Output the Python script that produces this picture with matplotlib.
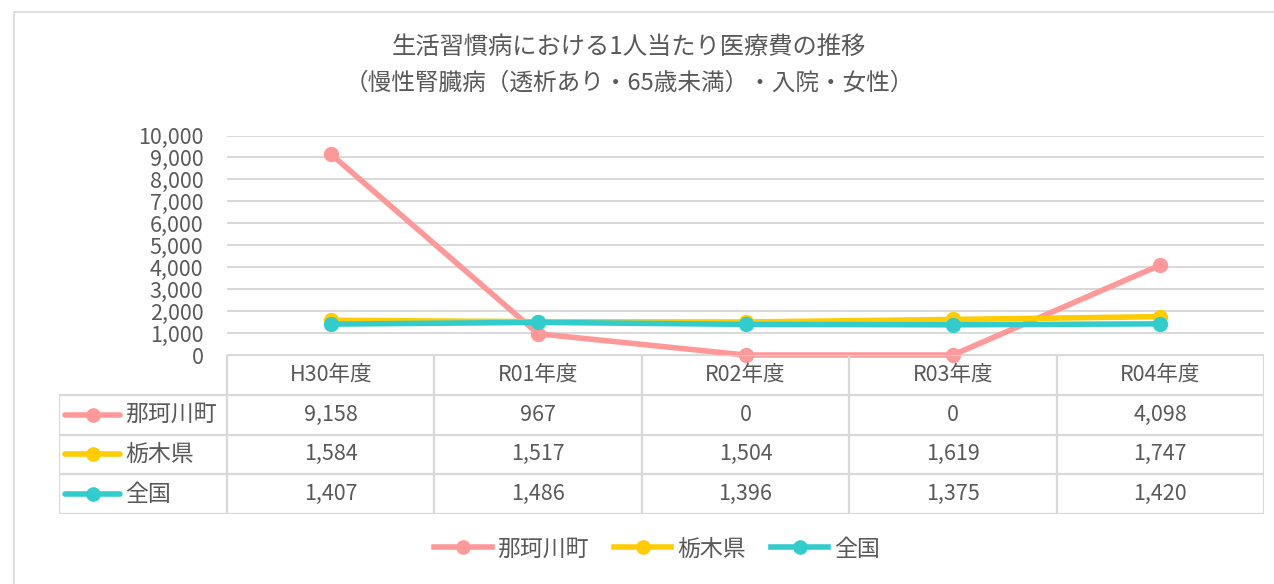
import matplotlib.pyplot as plt
from matplotlib.lines import Line2D
from matplotlib.patches import Rectangle
import numpy as np

plt.rcParams['font.family'] = ['Noto Sans CJK JP', 'DejaVu Sans']

years = ["H30年度", "R01年度", "R02年度", "R03年度", "R04年度"]
names = ["那珂川町", "栃木県", "全国"]
nakagawa = [9158, 967, 0, 0, 4098]
tochigi = [1584, 1517, 1504, 1619, 1747]
zenkoku = [1407, 1486, 1396, 1375, 1420]
colors = ["#FF9999", "#FFCC00", "#33CCCC"]

series = [nakagawa, tochigi, zenkoku]
text_col = "#595959"
grid_col = "#D9D9D9"

W, H = 1274, 584
fig = plt.figure(figsize=(W / 100, H / 100), dpi=100)

def px_box(x0, y0, x1, y1):
    # pixel box (top-left origin) -> figure fraction rect
    return [x0 / W, 1 - y1 / H, (x1 - x0) / W, (y1 - y0) / H]

# outer chart frame
fig.patches.append(Rectangle((14 / W, -0.1), 1.2, 1.1 - 12 / H, transform=fig.transFigure,
                             fill=False, ec=grid_col, lw=1.2))

fig.text(629 / W, 1 - 47 / H, "生活習慣病における1人当たり医療費の推移",
         ha="center", va="center", fontsize=17.5, color=text_col)
fig.text(629 / W, 1 - 83 / H, "（慢性腎臓病（透析あり・65歳未満）・入院・女性）",
         ha="center", va="center", fontsize=17, color=text_col)

# line chart
plot_l, plot_r = 227, 1264
ax = fig.add_axes(px_box(plot_l, 135.5, plot_r, 355))
x = np.arange(len(years))
for vals, c in zip(series, colors):
    ax.plot(x, vals, color=c, lw=4, marker="o", markersize=10, solid_capstyle="round",
            clip_on=False)
ax.set_xlim(-0.5, len(years) - 0.5)
ax.set_ylim(0, 10000)
ax.set_yticks(np.arange(0, 10001, 1000))
ax.set_yticklabels([f"{v:,}" for v in range(0, 10001, 1000)])
ax.set_xticks([])
ax.tick_params(axis="y", length=0, pad=17, labelsize=15.5, labelcolor=text_col)
ax.grid(axis="y", color=grid_col, lw=1.4)
ax.set_axisbelow(True)
for s in ax.spines.values():
    s.set_visible(False)

# data table underneath
unit = (plot_r - plot_l) / len(years)
lab_w = (plot_l - 59) / unit
tax = fig.add_axes(px_box(59, 355, plot_r, 514))
tax.set_xlim(-0.5 - lab_w, len(years) - 0.5)
tax.set_ylim(4, 0)
tax.axis("off")
left = -0.5 - lab_w
right = len(years) - 0.5
lk = dict(color=grid_col, lw=1.6, solid_capstyle="projecting")
tax.plot([-0.5, right], [0, 0], **lk)
for r in range(1, 5):
    tax.plot([left, right], [r, r], **lk)
tax.plot([left, left], [1, 4], **lk)
for k in range(len(years) + 1):
    tax.plot([k - 0.5, k - 0.5], [0, 4], **lk)
for i, y in enumerate(years):
    tax.text(i, 0.5, y, ha="center", va="center", fontsize=15.5, color=text_col)
for r, (name, vals, c) in enumerate(zip(names, series, colors), start=1):
    tax.plot([left + 6 / unit, left + 61 / unit], [r + 0.5, r + 0.5], color=c, lw=4,
             solid_capstyle="round")
    tax.plot([left + 34 / unit], [r + 0.5], "o", color=c, markersize=9.5)
    tax.text(left + 66 / unit, r + 0.5, name, ha="left", va="center", fontsize=16.5, color=text_col)
    for i, v in enumerate(vals):
        tax.text(i, r + 0.5, f"{v:,}", ha="center", va="center", fontsize=15.5, color=text_col)

# legend at the bottom
handles = [Line2D([], [], color=c, lw=4, marker="o", markersize=9.5) for c in colors]
fig.legend(handles, names, loc="center", bbox_to_anchor=(657 / W, 1 - 549 / H), ncol=3,
           frameon=False, fontsize=16.5, labelcolor=text_col, handlelength=2.5,
           handletextpad=0.25, columnspacing=1.1)

fig.savefig("out.png", dpi=100)
